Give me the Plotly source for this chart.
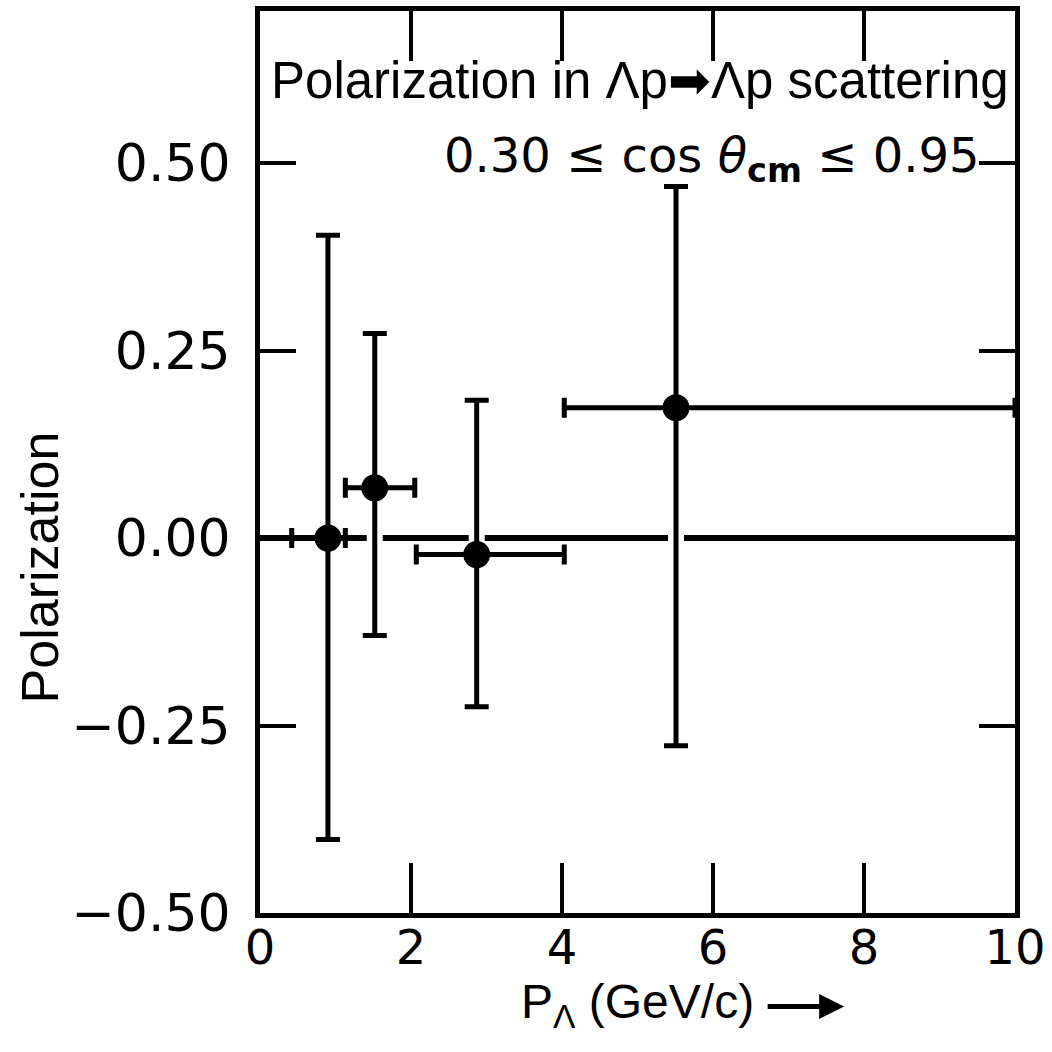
import plotly.graph_objects as go

# Data
p_lambda = [0.90, 1.52, 2.87, 5.51]
polarization = [0.000, 0.067, -0.022, 0.174]
x_low = [0.42, 1.13, 2.07, 4.03]
x_high = [1.13, 2.05, 4.03, 10.0]
y_low = [-0.402, -0.130, -0.225, -0.277]
y_high = [0.404, 0.273, 0.184, 0.469]

x_ticks = [0, 2, 4, 6, 8, 10]
y_ticks = [-0.50, -0.25, 0.00, 0.25, 0.50]
y_tick_text = ["\u22120.50", "\u22120.25", "0.00", "0.25", "0.50"]

ex_plus = [h - c for h, c in zip(x_high, p_lambda)]
ex_minus = [c - l for c, l in zip(p_lambda, x_low)]
ey_plus = [h - c for h, c in zip(y_high, polarization)]
ey_minus = [c - l for c, l in zip(polarization, y_low)]

fig = go.Figure()

# white halo behind vertical bars (gaps in the zero line like the drawing)
fig.add_trace(go.Scatter(
    x=p_lambda, y=polarization, mode="markers",
    marker=dict(size=1, color="rgba(0,0,0,0)"),
    error_y=dict(type="data", symmetric=False, array=ey_plus, arrayminus=ey_minus,
                 color="white", thickness=16, width=0),
    hoverinfo="skip", showlegend=False,
))

fig.add_trace(go.Scatter(
    x=p_lambda, y=polarization, mode="markers",
    marker=dict(size=27, color="black"),
    error_y=dict(type="data", symmetric=False, array=ey_plus, arrayminus=ey_minus,
                 color="black", thickness=5, width=12),
    error_x=dict(type="data", symmetric=False, array=ex_plus, arrayminus=ex_minus,
                 color="black", thickness=5, width=10),
    showlegend=False,
))

fig.update_layout(
    width=1052, height=1052,
    margin=dict(l=260, r=32, t=6, b=139),
    paper_bgcolor="white", plot_bgcolor="white",
    showlegend=False,
    xaxis=dict(
        range=[0, 10], tickvals=x_ticks, ticktext=[str(v) for v in x_ticks],
        ticks="inside", ticklen=50, tickwidth=4, tickcolor="black",
        showline=True, linewidth=5, linecolor="black", mirror="ticks",
        showgrid=False, zeroline=False,
        tickfont=dict(family="DejaVu Sans", size=48, color="black"),
        ticklabeloverflow="allow", ticklabelstandoff=-12,
    ),
    yaxis=dict(
        range=[-0.5, 0.703], tickvals=y_ticks, ticktext=y_tick_text,
        ticks="inside", ticklen=36, tickwidth=4, tickcolor="black",
        showline=True, linewidth=5, linecolor="black", mirror="ticks",
        showgrid=False, zeroline=True, zerolinewidth=6, zerolinecolor="black",
        tickfont=dict(family="DejaVu Sans", size=52, color="black"),
        ticklabelstandoff=14, ticklabeloverflow="allow",
    ),
)

lab_font = dict(family="Liberation Sans", color="black")

fig.add_annotation(
    text="Polarization in \u039bp\u27a1\u039bp scattering",
    xref="paper", yref="paper", x=(643 - 260) / 760, y=(913 - 76) / 907,
    showarrow=False, xanchor="center", yanchor="middle",
    font=dict(size=51, **lab_font),
)
fig.add_annotation(
    text="0.30 \u2264 cos <i>\u03b8</i><sub><b>cm</b></sub> \u2264 0.95",
    xref="paper", yref="paper", x=(715 - 260) / 760, y=(913 - 154) / 907,
    showarrow=False, xanchor="center", yanchor="middle",
    font=dict(family="DejaVu Sans", size=48, color="black"),
)
fig.add_annotation(
    text="Polarization", textangle=-90,
    xref="paper", yref="paper", x=(38 - 260) / 760, y=(913 - 565) / 907,
    showarrow=False, xanchor="center", yanchor="middle",
    font=dict(size=52, **lab_font),
)
fig.add_annotation(
    text="P<sub>\u039b</sub> (GeV/c)",
    xref="paper", yref="paper", x=(640 - 260) / 760, y=(913 - 1006) / 907,
    showarrow=False, xanchor="center", yanchor="middle",
    font=dict(size=48, **lab_font),
)
fig.add_annotation(
    text="", xref="paper", yref="paper",
    x=(848 - 260) / 760, y=(913 - 1007) / 907, ax=-78, ay=0,
    showarrow=True, arrowhead=2, arrowsize=1, arrowwidth=5, arrowcolor="black",
)

fig.write_html("out.html")
